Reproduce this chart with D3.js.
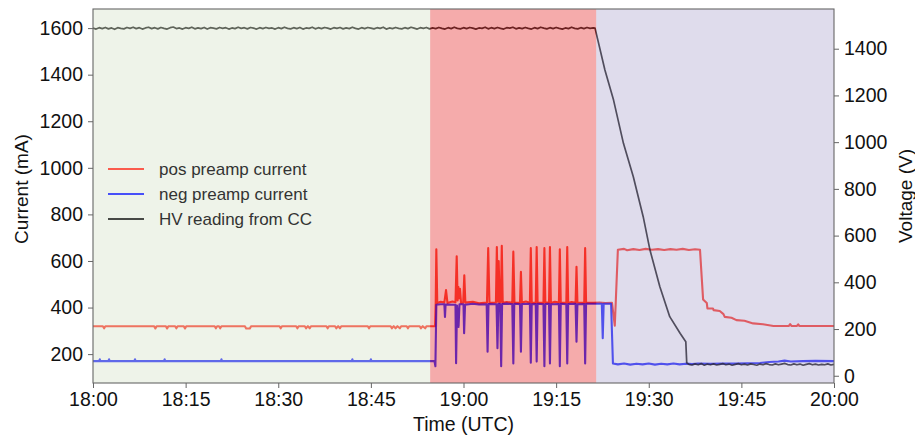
<!DOCTYPE html>
<html>
<head>
<meta charset="UTF-8">
<title>Preamp currents and HV</title>
<script src="https://d3js.org/d3.v7.min.js"></script>
<style>
  body { margin: 0; background: #fff; }
  text { font-family: "Liberation Sans", Arial, sans-serif; }
  .tick text { font-size: 19.5px; fill: #111; }
  .axis path, .axis line { stroke: #666; }
</style>
</head>
<body>
<svg id="chart" width="915" height="436"></svg>
<script>

// time in minutes after 18:00
const xTicks = [0, 15, 30, 45, 60, 75, 90, 105, 120];
const xTickLabels = ["18:00", "18:15", "18:30", "18:45", "19:00", "19:15", "19:30", "19:45", "20:00"];
const currentTicks = [200, 400, 600, 800, 1000, 1200, 1400, 1600];
const voltageTicks = [0, 200, 400, 600, 800, 1000, 1200, 1400];

// shaded periods [start, end], drawn as translucent overlays above the lines
const periods = [[0, 54.6], [54.6, 81.5], [81.5, 120]];
const periodColors = ["#c6d7b6", "#e10000", "#948ac0"];
const periodAlpha = [0.3, 0.33, 0.3];

// pos preamp current [min, mA]
const posCurrent = [
  [0,320],[1.6,320],[1.8,311],[2.0,320],[9.9,320],[10.1,310],[10.3,320],[11.8,320],[12.0,310],[12.2,320],
  [13.3,320],[13.5,311],[13.7,320],[14.7,320],[14.9,310],[15.1,320],[19.7,320],[19.9,311],[20.1,320],
  [20.4,320],[20.6,311],[20.8,320],[24.6,320],[24.8,310],[25.4,310],[25.6,320],[30.2,320],[30.4,311],[30.6,320],
  [32.9,320],[33.1,311],[33.3,320],[34.3,320],[34.5,311],[34.8,320],[35.1,311],[35.3,320],[37.8,320],[38.0,311],
  [38.2,320],[39.2,320],[39.4,311],[39.7,320],[40.0,311],[40.2,320],[44.5,320],[44.7,311],[44.9,320],[48.2,320],
  [48.4,311],[48.7,320],[49.0,311],[49.3,320],[49.7,311],[49.9,320],[50.8,320],[51.0,311],[51.2,320],[52.9,320],
  [53.1,311],[53.4,320],[53.8,311],[54.0,320],[55.4,320],
  [55.5,420],[55.6,650],[55.75,420],[56.3,425],
  [56.9,422],[57.17,475],[57.4,420],[58.2,426],
  [58.7,423],[58.9,620],[59.05,430],[59.16,489],[59.3,440],[59.43,480],[59.6,420],
  [59.95,422],[60.13,539],[60.3,421],[61.5,425],[62.5,418],
  [63.8,422],[64.0,655],[64.2,420],
  [65.25,422],[65.4,660],[65.55,425],[65.7,600],[65.85,420],[66.05,425],[66.2,665],[66.35,420],
  [67.0,424],[67.9,420],[68.07,640],[68.25,421],
  [69.15,420],[69.3,553],[69.45,422],[70.1,426],
  [70.75,421],[70.9,655],[71.05,420],
  [71.7,420],[71.85,660],[72.0,421],
  [72.95,420],[73.1,655],[73.25,422],
  [73.85,421],[74.0,660],[74.15,420],[74.8,425],
  [75.45,422],[75.6,650],[75.75,420],
  [76.65,421],[76.8,660],[76.95,420],[77.5,424],
  [78.15,420],[78.3,575],[78.45,422],
  [79.55,420],[79.7,655],[79.85,421],
  [81.0,420],[82.0,422],[83.0,419],[84.05,420],
  [84.5,322],[85.0,648],[86.0,652],[86.5,646],[87.5,651],[88.5,647],[89.5,652],[90.5,648],[91.5,651],
  [92.5,647],[93.5,651],[94.5,648],[95.5,652],[96.5,647],[97.5,650],[98.3,648],
  [98.6,520],[98.8,435],[99.4,420],[99.5,396],[100.4,396],[100.5,389],[101.5,385],[102.1,372],
  [102.3,360],[103.4,356],[104.2,346],[105.5,343],[106.9,332],[108.5,328],[110.2,321],
  [112.7,321],[112.9,329],[113.1,321],[114.0,321],[114.2,328],[114.4,321],[120,321]
];

// neg preamp current [min, mA]
const negCurrent = [
  [0,170],[1.0,170],[1.1,178],[1.2,170],[2.5,170],[2.6,178],[2.7,170],[6.7,170],[6.8,178],[6.9,170],
  [11.5,170],[11.6,178],[11.7,170],[20.7,170],[20.8,178],[20.9,170],[41.9,170],[42.0,178],[42.1,170],
  [44.9,170],[45.0,178],[45.1,170],[55.3,170],
  [55.45,148],[55.6,412],[56.3,414],
  [56.9,414],[57.0,360],[57.1,413],
  [58.7,412],[58.8,161],[58.95,409],[59.2,317],[59.35,414],
  [60.0,414],[60.1,290],[60.25,412],[61.5,416],[62.5,413],
  [63.75,414],[63.9,210],[64.05,415],
  [65.35,414],[65.5,225],[65.65,416],[65.95,414],[66.1,148],[66.25,415],
  [67.0,417],[67.9,414],[68.07,160],[68.22,416],
  [69.15,414],[69.3,210],[69.45,415],
  [70.75,416],[70.9,163],[71.05,414],
  [71.7,415],[71.85,168],[72.0,416],
  [72.95,414],[73.1,148],[73.25,415],
  [73.85,416],[74.0,160],[74.15,414],
  [75.45,415],[75.6,148],[75.75,416],
  [76.65,414],[76.8,160],[76.95,415],
  [78.15,416],[78.3,253],[78.45,414],
  [79.55,415],[79.7,160],[79.85,416],
  [81.0,416],[82.4,416],[82.55,268],[82.7,416],[83.9,416],
  [84.2,160],[85.0,156],[86.0,160],[87.0,155],[88.0,159],[89.0,156],[90.0,160],[91.0,155],[92.0,159],
  [93.0,156],[94.0,160],[95.0,156],[96.0,159],[97.0,157],[98.0,160],[100.0,158],[102.0,160],[104.0,159],
  [106.0,161],[108.0,162],[109.5,166],[111.0,168],[112.0,172],[113.0,168],[115.0,170],[117.0,171],[120,170]
];

// HV reading from CC [min, V]
const hvReading = [
  [0,1488],[0.5,1484],[1,1490],[1.5,1486],[2,1491],[2.5,1485],[3,1489],[3.5,1483],[4,1490],[4.5,1487],
  [5,1485],[5.5,1491],[6,1487],[6.5,1492],[7,1486],[7.5,1490],[8,1484],[8.5,1489],[9,1492],[9.5,1486],
  [10,1490],[10.5,1485],[11,1491],[11.5,1487],[12,1484],[12.5,1490],[13,1493],[13.5,1486],[14,1489],[14.5,1484],
  [15,1490],[15.5,1487],[16,1492],[16.5,1485],[17,1489],[17.5,1486],[18,1491],[18.5,1484],[19,1490],[19.5,1488],
  [20,1485],[20.5,1491],[21,1487],[21.5,1490],[22,1484],[22.5,1489],[23,1486],[23.5,1492],[24,1487],[24.5,1490],
  [25,1485],[25.5,1491],[26,1488],[26.5,1484],[27,1490],[27.5,1486],[28,1491],[28.5,1487],[29,1489],[29.5,1484],
  [30,1490],[30.5,1486],[31,1492],[31.5,1487],[32,1485],[32.5,1490],[33,1486],[33.5,1491],[34,1484],[34.5,1489],
  [35,1487],[35.5,1492],[36,1485],[36.5,1490],[37,1486],[37.5,1491],[38,1488],[38.5,1484],[39,1490],[39.5,1487],
  [40,1491],[40.5,1485],[41,1489],[41.5,1486],[42,1492],[42.5,1487],[43,1484],[43.5,1490],[44,1486],[44.5,1491],
  [45,1488],[45.5,1485],[46,1490],[46.5,1487],[47,1492],[47.5,1484],[48,1489],[48.5,1486],[49,1491],[49.5,1487],
  [50,1485],[50.5,1490],[51,1486],[51.5,1492],[52,1488],[52.5,1484],[53,1490],[53.5,1487],[54,1491],[54.5,1485],
  [55,1489],[55.5,1486],[56,1491],[56.5,1487],[57,1484],[57.5,1490],[58,1486],[58.5,1492],[59,1487],[59.5,1485],
  [60,1490],[60.5,1486],[61,1491],[61.5,1488],[62,1484],[62.5,1489],[63,1487],[63.5,1492],[64,1485],[64.5,1490],
  [65,1486],[65.5,1491],[66,1487],[66.5,1484],[67,1490],[67.5,1488],[68,1492],[68.5,1485],[69,1489],[69.5,1486],
  [70,1491],[70.5,1487],[71,1484],[71.5,1490],[72,1486],[72.5,1492],[73,1488],[73.5,1485],[74,1490],[74.5,1486],
  [75,1491],[75.5,1487],[76,1484],[76.5,1489],[77,1486],[77.5,1492],[78,1487],[78.5,1485],[79,1490],[79.5,1486],
  [80,1491],[80.5,1487],[81,1489],[81.3,1488],
  [82.9,1309],[84.3,1180],[85.9,995],[87.5,852],[89.1,681],[90.2,538],[91.8,381],[93.4,253],[95.1,181],
  [96.0,146],[96.15,55],
  [96.5,49],[97,46],[97.5,51],[98,47],[98.5,52],[99,45],[99.5,50],[100,47],[100.5,51],[101,46],[101.5,49],
  [102,52],[102.5,47],[103,50],[103.5,45],[104,49],[104.5,52],[105,47],[105.5,50],[106,46],[106.5,51],
  [107,48],[107.5,45],[108,50],[108.5,47],[109,52],[109.5,48],[110,46],[110.5,51],[111,47],[111.5,50],
  [112,53],[112.5,48],[113,46],[113.5,51],[114,47],[114.5,50],[115,45],[115.5,49],[116,52],[116.5,47],
  [117,50],[117.5,46],[118,49],[118.5,47],[119,51],[119.5,46],[120,49]
];

const series = [
  { name: "pos preamp current", data: posCurrent, axis: "left", color: "#ff1a0a", opacity: 0.8, width: 2.1 },
  { name: "neg preamp current", data: negCurrent, axis: "left", color: "#0008ff", opacity: 0.8, width: 2.1 },
  { name: "HV reading from CC", data: hvReading, axis: "right", color: "#000000", opacity: 0.8, width: 1.7 }
];

const margin = { left: 93, right: 81, top: 9, bottom: 53 };
const W = 915, H = 436;
const pw = W - margin.left - margin.right, ph = H - margin.top - margin.bottom;

const svg = d3.select("#chart");
const g = svg.append("g").attr("transform", `translate(${margin.left},${margin.top})`);

const x = d3.scaleLinear().domain([0, 120]).range([0, pw]);
const yL = d3.scaleLinear().domain([76, 1682]).range([ph, 0]);
const yR = d3.scaleLinear().domain([-31, 1570]).range([ph, 0]);

const clip = svg.append("defs").append("clipPath").attr("id", "plotclip");
clip.append("rect").attr("width", pw).attr("height", ph);

const lines = g.append("g").attr("clip-path", "url(#plotclip)");
series.forEach(s => {
  const yScale = s.axis === "left" ? yL : yR;
  const line = d3.line().x(d => x(d[0])).y(d => yScale(d[1]));
  lines.append("path")
    .datum(s.data)
    .attr("d", line)
    .attr("fill", "none")
    .attr("stroke", s.color)
    .attr("stroke-opacity", s.opacity)
    .attr("stroke-width", s.width)
    .attr("stroke-linejoin", "round");
});

// shaded periods on top of the lines
g.append("g").selectAll("rect")
  .data(periods)
  .enter().append("rect")
  .attr("x", d => x(d[0]))
  .attr("y", 0)
  .attr("width", d => x(d[1]) - x(d[0]))
  .attr("height", ph)
  .attr("fill", (d, i) => periodColors[i])
  .attr("fill-opacity", (d, i) => periodAlpha[i]);

// axes
const xAxis = g.append("g").attr("class", "axis")
  .attr("transform", `translate(0,${ph})`)
  .call(d3.axisBottom(x).tickValues(xTicks).tickFormat((d, i) => xTickLabels[i]).tickSize(5).tickPadding(4));
const lAxis = g.append("g").attr("class", "axis")
  .call(d3.axisLeft(yL).tickValues(currentTicks).tickFormat(d3.format("d")).tickSize(5).tickPadding(5));
const rAxis = g.append("g").attr("class", "axis")
  .attr("transform", `translate(${pw},0)`)
  .call(d3.axisRight(yR).tickValues(voltageTicks).tickFormat(d3.format("d")).tickSize(5).tickPadding(5));
[xAxis, lAxis, rAxis].forEach(a => a.select(".domain").remove());

// frame
g.append("rect")
  .attr("width", pw).attr("height", ph)
  .attr("fill", "none").attr("stroke", "#666").attr("stroke-width", 1.1);

// axis titles
svg.append("text")
  .attr("transform", `translate(21,${margin.top + 180}) rotate(-90)`)
  .attr("text-anchor", "middle").attr("dominant-baseline", "central")
  .attr("font-size", 19).attr("fill", "#111")
  .text("Current (mA)");
svg.append("text")
  .attr("transform", `translate(905,${margin.top + 187}) rotate(-90)`)
  .attr("text-anchor", "middle").attr("dominant-baseline", "central")
  .attr("font-size", 19).attr("fill", "#111")
  .text("Voltage (V)");
svg.append("text")
  .attr("x", margin.left + pw / 2).attr("y", 431)
  .attr("text-anchor", "middle")
  .attr("font-size", 19.5).attr("fill", "#111")
  .text("Time (UTC)");

// legend
const legend = g.append("g").attr("transform", "translate(15,160)");
series.forEach((s, i) => {
  const row = legend.append("g").attr("transform", `translate(0,${i * 25})`);
  row.append("line")
    .attr("x1", 0).attr("x2", 36)
    .attr("stroke", s.color).attr("stroke-opacity", 0.7).attr("stroke-width", 1.8);
  row.append("text")
    .attr("x", 51).attr("dy", "0.35em")
    .attr("font-size", 17).attr("fill", "#333")
    .text(s.name);
});

</script>
</body>
</html>
